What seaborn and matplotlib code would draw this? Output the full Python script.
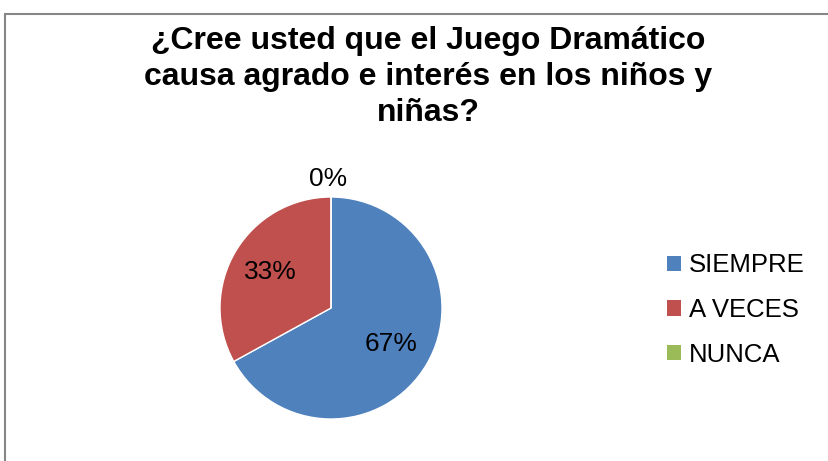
import matplotlib
matplotlib.use("Agg")
import matplotlib.pyplot as plt
import seaborn as sns
from matplotlib.patches import Patch, Rectangle

categories = ["SIEMPRE", "A VECES", "NUNCA"]
values = [67, 33, 0]
colors = ["#4F81BD", "#C0504D", "#9BBB59"]
title = "¿Cree usted que el Juego Dramático\ncausa agrado e interés en los niños y\nniñas?"

sns.set_theme(style="white")
plt.rcParams['font.family'] = ['Liberation Sans', 'DejaVu Sans']
plt.rcParams['text.color'] = 'black'

W, H = 829, 461
fig = plt.figure(figsize=(W / 100, H / 100), dpi=100)
fig.patch.set_facecolor("white")

# frame (partially visible border)
fig.add_artist(Rectangle((5.5 / W, -0.1), 1.2, (H - 13.5) / H + 0.1,
                         transform=fig.transFigure, fill=False,
                         edgecolor="#868686", lw=1.5))

cx, cy, r = 331, 308, 111
ax = fig.add_axes([(cx - r) / W, (H - cy - r) / H, 2 * r / W, 2 * r / H])
wedges, texts, autotexts = ax.pie(values, colors=colors, startangle=90,
                                  counterclock=False, autopct='%.0f%%',
                                  pctdistance=0.63, radius=1,
                                  textprops=dict(fontsize=19, color="black"))
ax.set_xlim(-1, 1)
ax.set_ylim(-1, 1)
ax.set_aspect("equal")
for v, t in zip(values, autotexts):
    if v == 0:
        t.set_position((-0.03, 1.16))

fig.text(428 / W, 1 - 77 / H, title, ha="center", va="center", fontsize=23,
         fontweight="bold", linespacing=1.25, color="black")

handles = [Patch(facecolor=c, edgecolor="none") for c in colors]
fig.legend(handles, categories, loc="center left",
           bbox_to_anchor=(657 / W, 1 - 310 / H), frameon=False,
           fontsize=18.5, handlelength=0.55, handleheight=0.55,
           handletextpad=0.3, labelspacing=0.8, borderaxespad=0,
           labelcolor="black")

fig.savefig("out.png", dpi=100)
